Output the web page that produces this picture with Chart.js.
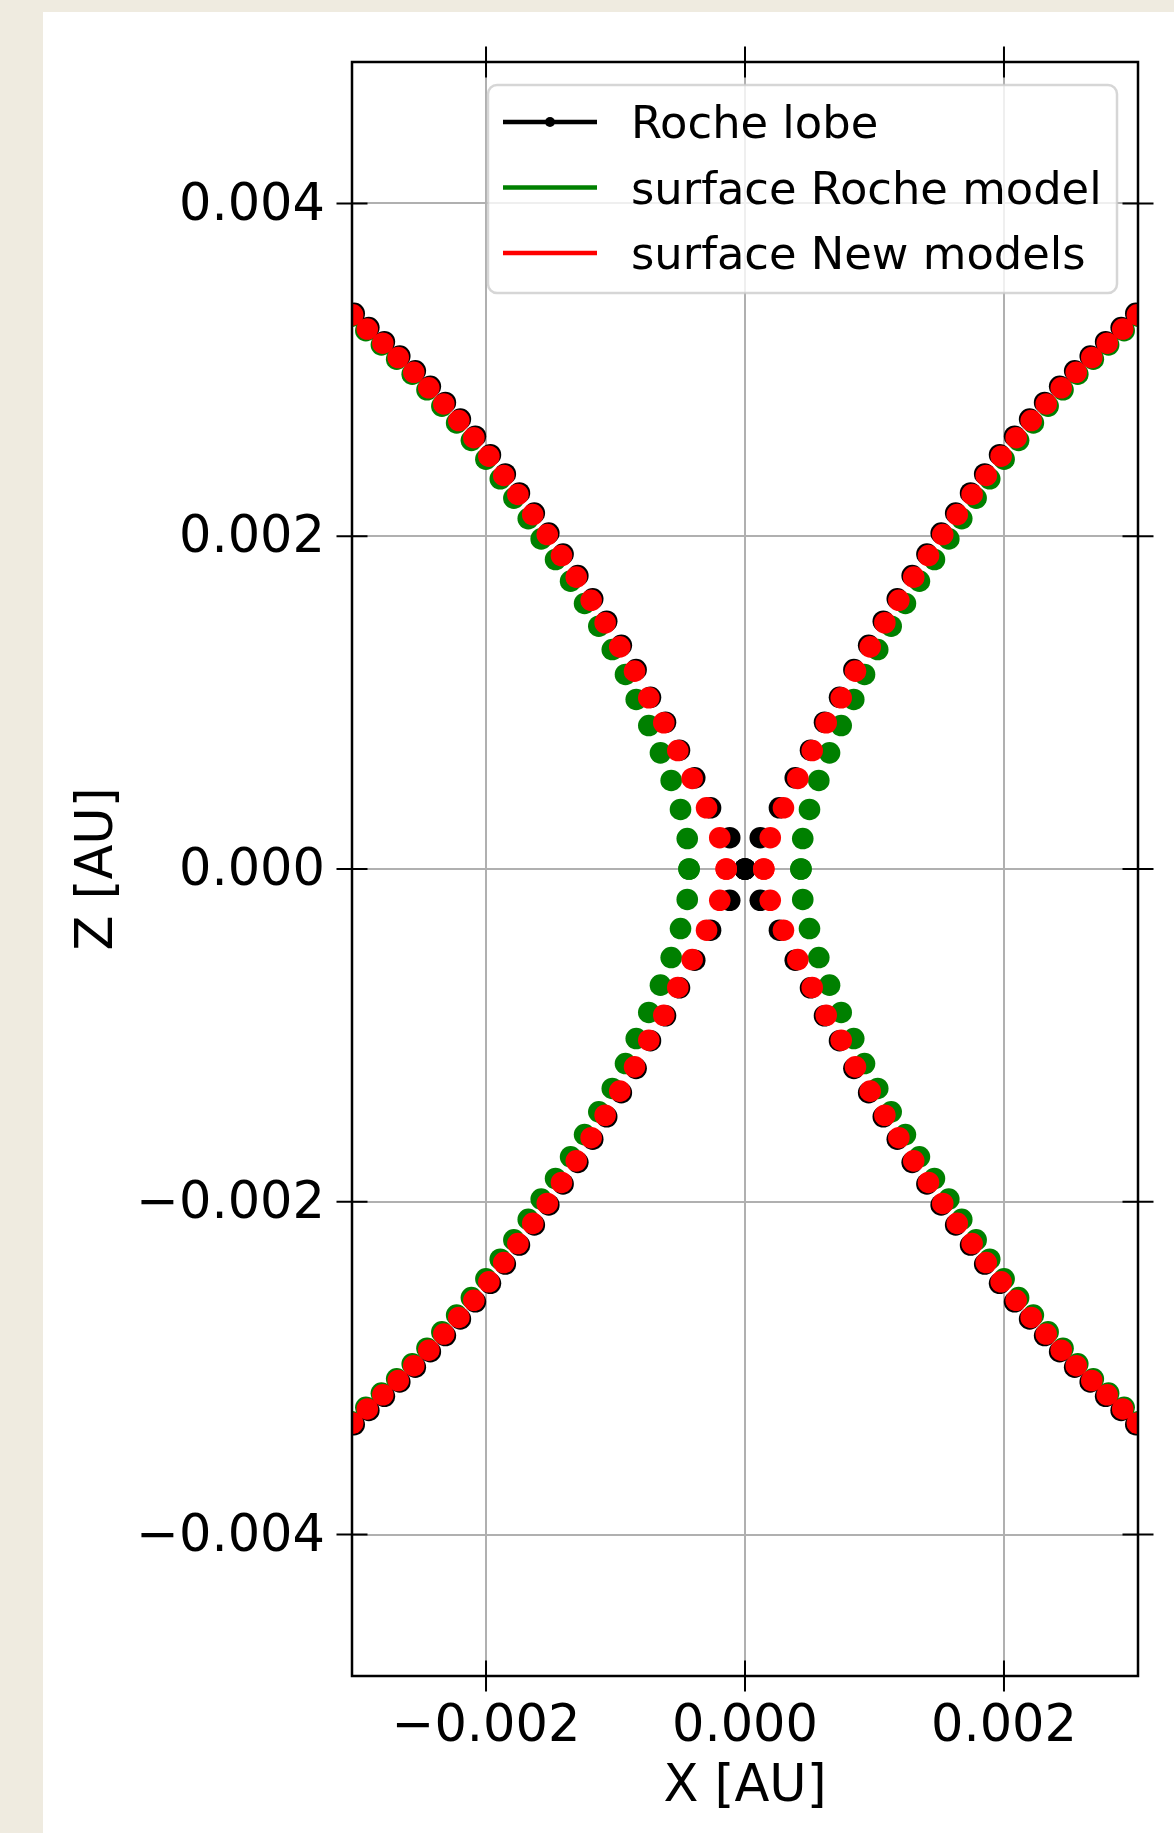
<!DOCTYPE html>
<html>
<head>
<meta charset="utf-8">
<script src="https://cdn.jsdelivr.net/npm/chart.js@4"></script>
<style>
  html, body { margin: 0; padding: 0; background: #efebe0; }
  #card { position: absolute; left: 43px; top: 12px; width: 1131px; height: 1821px; background: #fff; }
</style>
</head>
<body>
<div id="card"><canvas id="lobeChart"></canvas></div>
<script>
// Cross-section of the lobes near L1 (X-Z plane). The curves are symmetric
// about both axes, so one quadrant (x >= 0, z >= 0) is listed and reflected.
const seriesNames = ['Roche lobe', 'surface Roche model', 'surface New models'];
const seriesColors = ['#000000', '#008000', '#ff0000'];

const rocheX = [0, 0.000118, 0.000266, 0.000388, 0.000506, 0.000614, 0.000730, 0.000841, 0.000955,
  0.001068, 0.001176, 0.001291, 0.001405, 0.001515, 0.001627, 0.001742, 0.001851, 0.001966,
  0.002082, 0.002198, 0.002314, 0.002430, 0.002546, 0.002666, 0.002785, 0.002905, 0.003018];
const rocheZ = [0, 0.000188, 0.000368, 0.000548, 0.000714, 0.000882, 0.001032, 0.001198, 0.001344,
  0.001489, 0.001624, 0.001763, 0.001893, 0.002019, 0.002139, 0.002260, 0.002374, 0.002490,
  0.002601, 0.002704, 0.002804, 0.002901, 0.002994, 0.003083, 0.003169, 0.003254, 0.003339];

const surfRocheX = [0.000432, 0.000446, 0.000498, 0.000570, 0.000653, 0.000743, 0.000840, 0.000923, 0.001025,
  0.001129, 0.001239, 0.001347, 0.001463, 0.001574, 0.001674, 0.001785, 0.001890, 0.002001,
  0.002113, 0.002227, 0.002341, 0.002456, 0.002570, 0.002690, 0.002808, 0.002928, 0.003041];
const surfRocheZ = [0, 0.000183, 0.000358, 0.000532, 0.000698, 0.000862, 0.001019, 0.001169, 0.001319,
  0.001459, 0.001596, 0.001730, 0.001860, 0.001984, 0.002106, 0.002229, 0.002345, 0.002463,
  0.002576, 0.002681, 0.002782, 0.002880, 0.002974, 0.003064, 0.003150, 0.003235, 0.003320];

const surfNewX = [0.000145, 0.000195, 0.000297, 0.000408, 0.000519, 0.000627, 0.000743, 0.000853, 0.000967,
  0.001080, 0.001188, 0.001303, 0.001417, 0.001527, 0.001639, 0.001754, 0.001863, 0.001978,
  0.002094, 0.002210, 0.002326, 0.002442, 0.002558, 0.002678, 0.002797, 0.002917, 0.003030];
const surfNewZ = [0, 0.000188, 0.000368, 0.000544, 0.000712, 0.000879, 0.001029, 0.001189, 0.001335,
  0.001480, 0.001615, 0.001754, 0.001884, 0.002010, 0.002130, 0.002251, 0.002365, 0.002481,
  0.002592, 0.002695, 0.002795, 0.002892, 0.002985, 0.003074, 0.003160, 0.003245, 0.003330];

const xTicks = [-0.002, 0, 0.002];
const zTicks = [-0.004, -0.002, 0, 0.002, 0.004];
const xLimits = [-0.003035, 0.003035];
const zLimits = [-0.00485, 0.00485];

function reflect(xs, zs) {
  const pts = [];
  for (const [sx, sz] of [[1, 1], [-1, 1], [1, -1], [-1, -1]]) {
    xs.forEach((x, i) => pts.push({ x: sx * x, y: sz * zs[i] }));
  }
  return pts;
}

const fmtTick = v => v.toFixed(3).replace('-', '\u2212');
const axisFont = { family: 'DejaVu Sans', size: 51 };
const R = 10.8;

// matplotlib-style frame with in/out ticks on all four sides
const frame = {
  id: 'frame',
  afterDraw(chart) {
    const { ctx, chartArea: a, scales: { x, y } } = chart;
    const t = 15.5;
    ctx.save();
    ctx.strokeStyle = '#000';
    ctx.lineWidth = 2;
    ctx.beginPath();
    xTicks.forEach(v => {
      const px = x.getPixelForValue(v);
      ctx.moveTo(px, a.bottom - t); ctx.lineTo(px, a.bottom + t);
      ctx.moveTo(px, a.top - t); ctx.lineTo(px, a.top + t);
    });
    zTicks.forEach(v => {
      const py = y.getPixelForValue(v);
      ctx.moveTo(a.left - t, py); ctx.lineTo(a.left + t, py);
      ctx.moveTo(a.right - t, py); ctx.lineTo(a.right + t, py);
    });
    ctx.stroke();
    ctx.lineWidth = 2.5;
    ctx.strokeRect(a.left, a.top, a.right - a.left, a.bottom - a.top);
    ctx.restore();
  }
};

// legend box in the upper right corner of the axes
const lobeLegend = {
  id: 'lobeLegend',
  afterDatasetsDraw(chart) {
    const { ctx, chartArea: a } = chart;
    const w = 629, h = 208;
    const left = a.right - 21 - w, top = a.top + 23;
    ctx.save();
    ctx.beginPath();
    ctx.roundRect(left, top, w, h, 9);
    ctx.fillStyle = 'rgba(255,255,255,0.8)';
    ctx.fill();
    ctx.strokeStyle = 'rgba(204,204,204,0.8)';
    ctx.lineWidth = 2.5;
    ctx.stroke();
    const markR = [5, 1.6, 1.6];
    ctx.font = '44.8px "DejaVu Sans"';
    ctx.textBaseline = 'alphabetic';
    seriesNames.forEach((name, i) => {
      const ry = top + 37 + i * 65.5;
      ctx.strokeStyle = seriesColors[i];
      ctx.fillStyle = seriesColors[i];
      ctx.lineWidth = 4.6;
      ctx.beginPath();
      ctx.moveTo(left + 15, ry);
      ctx.lineTo(left + 109, ry);
      ctx.stroke();
      ctx.beginPath();
      ctx.arc(left + 62, ry, markR[i], 0, Math.PI * 2);
      ctx.fill();
      ctx.fillStyle = '#000';
      ctx.fillText(name, left + 143, ry + 16);
    });
    ctx.restore();
  }
};

const pointStyle = (i, order) => ({
  label: seriesNames[i],
  backgroundColor: seriesColors[i],
  borderWidth: 0,
  pointRadius: R,
  pointHoverRadius: R,
  pointBorderWidth: 0,
  showLine: false,
  clip: 0,
  order: order
});

new Chart(document.getElementById('lobeChart'), {
  type: 'scatter',
  data: {
    datasets: [
      Object.assign(pointStyle(0, 3), { data: reflect(rocheX, rocheZ) }),
      Object.assign(pointStyle(1, 2), { data: reflect(surfRocheX, surfRocheZ) }),
      Object.assign(pointStyle(2, 1), { data: reflect(surfNewX, surfNewZ) })
    ]
  },
  options: {
    responsive: true,
    maintainAspectRatio: false,
    animation: false,
    events: [],
    layout: { padding: { top: 50, right: 36, left: 0, bottom: 0 } },
    plugins: { legend: { display: false }, tooltip: { enabled: false } },
    scales: {
      x: {
        type: 'linear',
        min: xLimits[0],
        max: xLimits[1],
        afterBuildTicks: s => { s.ticks = xTicks.map(value => ({ value })); },
        afterFit: s => { s.height = 157; s.paddingLeft = 0; s.paddingRight = 0; },
        grid: { color: '#b0b0b0', lineWidth: 2, drawTicks: false },
        border: { display: false },
        ticks: { font: axisFont, color: '#000', padding: 21, autoSkip: false, maxRotation: 0, callback: fmtTick },
        title: { display: true, text: 'X [AU]', font: axisFont, color: '#000', padding: { top: 0, bottom: 15 } }
      },
      y: {
        type: 'linear',
        min: zLimits[0],
        max: zLimits[1],
        afterBuildTicks: s => { s.ticks = zTicks.map(value => ({ value })); },
        afterFit: s => { s.width = 309; s.paddingTop = 0; s.paddingBottom = 0; },
        grid: { color: '#b0b0b0', lineWidth: 2, drawTicks: false },
        border: { display: false },
        ticks: { font: axisFont, color: '#000', padding: 27, labelOffset: 3, autoSkip: false, callback: fmtTick },
        title: { display: true, text: 'Z [AU]', font: axisFont, color: '#000', padding: { top: 25, bottom: 0 } }
      }
    }
  },
  plugins: [frame, lobeLegend]
});
</script>
</body>
</html>
